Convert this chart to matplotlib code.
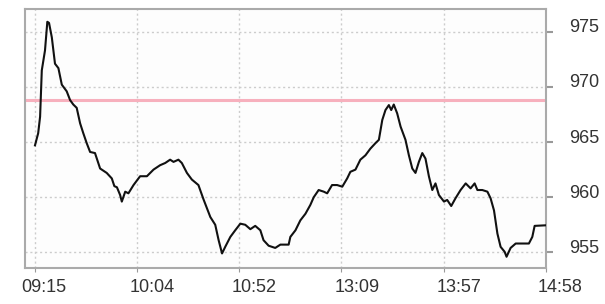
import matplotlib
matplotlib.use("Agg")
import matplotlib.pyplot as plt
import matplotlib.transforms as mtransforms

# minute index within the trading session (lunch break removed) and price
minute_idx = [0, 1.5, 2.4, 3.2, 4.7, 5.8, 6.6, 7.9, 9.4, 11.0, 12.6, 14.9, 16.5, 18.0,
              19.6, 21.2, 22.7, 24.3, 25.9, 28.2, 30.6, 33.7, 36.1, 37.3, 38.5, 40.0,
              40.8, 42.4, 43.9, 46.3, 49.4, 52.6, 55.7, 58.8, 61.2, 63.5, 65.1, 67.4,
              69.0, 71.4, 73.7, 76.8, 79.2, 82.4, 84.7, 86.3, 87.9, 89.4, 91.8, 94.1,
              96.5, 98.8, 101.2, 103.5, 105.9, 107.4, 109.8, 112.9, 115.3, 117.6, 119.2,
              120.0, 122.4, 124.7, 127.1, 129.4, 131.0, 133.3, 135.7, 137.3, 139.6,
              142.0, 144.4, 146.7, 148.2, 150.6, 152.9, 155.3, 157.6, 160.0, 161.6,
              163.2, 164.7, 166.3, 167.4, 168.6, 170.2, 171.8, 174.1, 175.7, 177.3,
              178.8, 180.4, 182.0, 183.5, 185.1, 186.7, 188.2, 189.8, 192.2, 193.7,
              195.6, 197.6, 200.0, 202.4, 204.7, 206.6, 207.9, 210.2, 212.6, 214.1,
              215.7, 217.3, 218.8, 220.7, 221.6, 223.5, 225.9, 232.1, 233.7, 234.8, 240.0]
price = [964.7, 965.8, 967.3, 971.5, 973.3, 975.9, 975.8, 974.5, 972.1, 971.7, 970.2,
         969.6, 968.8, 968.4, 968.1, 966.7, 965.8, 964.9, 964.1, 964.0, 962.6, 962.2,
         961.7, 961.0, 960.9, 960.2, 959.6, 960.5, 960.35, 961.1, 961.9, 961.9, 962.5,
         962.9, 963.1, 963.4, 963.2, 963.4, 963.1, 962.2, 961.6, 961.1, 959.8, 958.2,
         957.5, 956.1, 954.9, 955.5, 956.4, 957.0, 957.6, 957.5, 957.1, 957.4, 957.0,
         956.1, 955.6, 955.4, 955.7, 955.7, 955.7, 956.4, 957.0, 957.9, 958.5, 959.3,
         960.0, 960.65, 960.5, 960.35, 961.1, 961.1, 960.95, 961.7, 962.3, 962.5, 963.4,
         963.8, 964.4, 964.9, 965.2, 967.0, 967.9, 968.35, 967.9, 968.4, 967.6, 966.4,
         965.2, 963.8, 962.6, 962.2, 963.2, 964.0, 963.5, 961.9, 960.65, 961.25, 960.2,
         959.6, 959.75, 959.2, 959.9, 960.65, 961.25, 960.8, 961.25, 960.65, 960.65,
         960.5, 959.9, 958.8, 956.7, 955.5, 955.05, 954.6, 955.4, 955.8, 955.8, 956.4,
         957.4, 957.45]
prev_close = 968.8

tick_pos = [0, 48, 96, 144, 192, 240]
tick_labels = ["09:15", "10:04", "10:52", "13:09", "13:57", "14:58"]
y_ticks = [955, 960, 965, 970, 975]

plt.rcParams['font.family'] = ['Liberation Sans', 'DejaVu Sans']

fig = plt.figure(figsize=(6.05, 3.04), dpi=100)
ax = fig.add_axes([0.0413, 0.1184, 0.8607, 0.852])

ax.axhline(prev_close, color='#f7b0bd', lw=2.2, zorder=2)
ax.plot(minute_idx, price, color='#111111', lw=1.5, zorder=3)

ax.set_xlim(-4.7, 240)
ax.set_ylim(953.58, 977.06)
ax.set_xticks(tick_pos)
ax.set_xticklabels(tick_labels)
ax.set_yticks(y_ticks)
ax.yaxis.tick_right()

ax.grid(True, color='#cccccc', linestyle=(0, (1.5, 2)), lw=1)
ax.tick_params(axis='both', colors='#999999', labelcolor='#333333', labelsize=13)
ax.tick_params(axis='y', length=5, width=1.5, pad=12)
ax.tick_params(axis='x', length=3, pad=5)
for sp in ax.spines.values():
    sp.set_color('#aaaaaa')
    sp.set_linewidth(1.5)
ax.set_facecolor('#fdfdfd')

# labels in the reference sit a little right of their x ticks and above their y ticks
x_shift = [9, 15, 15, 16, 15, 14]
for lbl, dx in zip(ax.get_xticklabels(), x_shift):
    lbl.set_transform(lbl.get_transform() +
                      mtransforms.ScaledTranslation(dx / 100, 0, fig.dpi_scale_trans))
for lbl in ax.get_yticklabels():
    lbl.set_transform(lbl.get_transform() +
                      mtransforms.ScaledTranslation(0, 6 / 100, fig.dpi_scale_trans))

fig.savefig('out.png', dpi=100)
